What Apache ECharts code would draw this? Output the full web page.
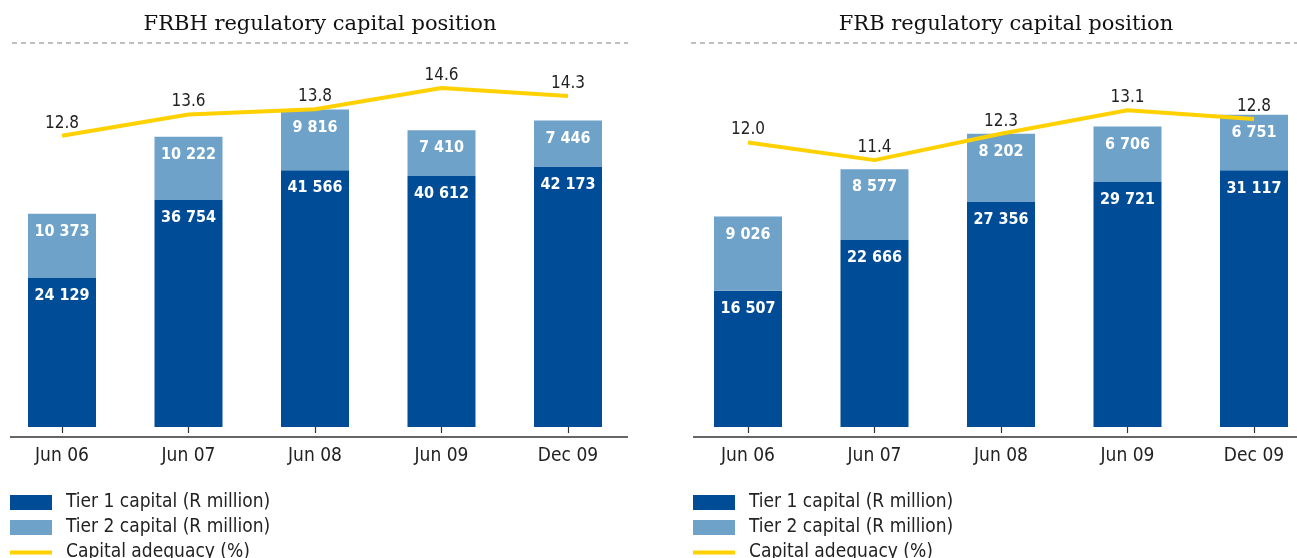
<!DOCTYPE html>
<html>
<head>
<meta charset="utf-8">
<script src="https://cdn.jsdelivr.net/npm/echarts@6/dist/echarts.min.js"></script>
<style>
  html, body { margin: 0; padding: 0; background: #fff; overflow: hidden; }
  /* 画布比窗口宽一点，左右各留 20px，避免 grid 被裁剪 */
  #main { width: 1340px; height: 558px; margin-left: -20px; }
</style>
</head>
<body>
<div id="main"></div>
<script>
// 数据
const categories = ["Jun 06", "Jun 07", "Jun 08", "Jun 09", "Dec 09"];
const frbhTier1 = [24129, 36754, 41566, 40612, 42173];
const frbhTier2 = [10373, 10222, 9816, 7410, 7446];
const frbhAdequacy = [12.8, 13.6, 13.8, 14.6, 14.3];
const frbTier1 = [16507, 22666, 27356, 29721, 31117];
const frbTier2 = [9026, 8577, 8202, 6706, 6751];
const frbAdequacy = [12.0, 11.4, 12.3, 13.1, 12.8];
const legendNames = ["Tier 1 capital (R million)", "Tier 2 capital (R million)", "Capital adequacy (%)"];

const DARK = "#004c97";
const LIGHT = "#6fa2c9";
const YELLOW = "#ffd100";
const TEXT = "#222";
const COND = "'DejaVu Sans Condensed', 'DejaVu Sans', sans-serif";
const OX = 20; // 画布左移量

const fmt = (v) => String(v).replace(/\B(?=(\d{3})+(?!\d))/g, " ");

function barLabel() {
  return {
    show: true,
    position: "insideTop",
    distance: 10,
    color: "#fff",
    fontFamily: COND,
    fontWeight: "bold",
    fontSize: 16,
    formatter: (p) => fmt(p.value),
  };
}

function xAxis(gridIndex) {
  return {
    type: "category",
    gridIndex: gridIndex,
    data: categories,
    offset: 10,
    axisLine: { show: false },
    axisTick: { show: true, alignWithLabel: true, length: 6, lineStyle: { color: "#333", width: 1.2 } },
    axisLabel: { margin: 10, color: TEXT, fontFamily: COND, fontSize: 19 },
  };
}

// 每个图例单独一行
function legends(left) {
  const lineIcon = "path://M0,0H0.01V15H0Z M0,5.5H42V9.5H0Z";
  return legendNames.map((name, i) => ({
    left: left + OX,
    top: 493 + 25 * i,
    padding: 0,
    itemWidth: 42,
    itemHeight: 15,
    selectedMode: false,
    textStyle: { color: TEXT, fontFamily: COND, fontSize: 19, padding: [0, 0, 0, 9] },
    data: [{ name: name, icon: i === 2 ? lineIcon : "rect" }],
  }));
}

function seriesFor(idx, t1, t2, ca) {
  return [
    {
      name: legendNames[0],
      type: "bar",
      xAxisIndex: idx,
      yAxisIndex: idx * 2,
      stack: "cap" + idx,
      barWidth: 68,
      itemStyle: { color: DARK },
      label: barLabel(),
      data: t1,
    },
    {
      name: legendNames[1],
      type: "bar",
      xAxisIndex: idx,
      yAxisIndex: idx * 2,
      stack: "cap" + idx,
      barWidth: 68,
      itemStyle: { color: LIGHT },
      label: barLabel(),
      data: t2,
    },
    {
      name: legendNames[2],
      type: "line",
      xAxisIndex: idx,
      yAxisIndex: idx * 2 + 1,
      symbol: "circle",
      symbolSize: 0.1,
      showSymbol: true,
      z: 5,
      lineStyle: { color: YELLOW, width: 4 },
      itemStyle: { color: YELLOW },
      label: {
        show: true,
        position: "top",
        distance: 4,
        color: TEXT,
        fontFamily: COND,
        fontSize: 17,
        formatter: (p) => p.value.toFixed(1),
      },
      data: ca,
    },
  ];
}

const chart = echarts.init(document.getElementById("main"));
chart.setOption({
  animation: false,
  title: [
    {
      text: "FRBH regulatory capital position",
      left: 315 + OX, top: 9, textAlign: "center",
      textStyle: { fontFamily: "'DejaVu Serif', serif", fontWeight: "normal", fontSize: 21, color: "#111" },
    },
    {
      text: "FRB regulatory capital position",
      left: 1001 + OX, top: 9, textAlign: "center",
      textStyle: { fontFamily: "'DejaVu Serif', serif", fontWeight: "normal", fontSize: 21, color: "#111" },
    },
  ],
  legend: [...legends(10), ...legends(693)],
  grid: [
    { left: -1.25 + OX, width: 632.5, top: 60, height: 367 },
    { left: 684.75 + OX, width: 632.5, top: 60, height: 367 },
  ],
  xAxis: [xAxis(0), xAxis(1)],
  yAxis: [
    { type: "value", gridIndex: 0, min: 0, max: 59400, show: false },
    { type: "value", gridIndex: 0, min: 1.81, max: 15.66, show: false },
    { type: "value", gridIndex: 1, min: 0, max: 44500, show: false },
    { type: "value", gridIndex: 1, min: 2.31, max: 14.81, show: false },
  ],
  graphic: [
    { type: "line", shape: { x1: 12 + OX, y1: 43, x2: 628 + OX, y2: 43 }, style: { stroke: "#aaa", lineWidth: 1.5, lineDash: [5, 4] } },
    { type: "line", shape: { x1: 691 + OX, y1: 43, x2: 1297 + OX, y2: 43 }, style: { stroke: "#aaa", lineWidth: 1.5, lineDash: [5, 4] } },
    { type: "line", shape: { x1: 10 + OX, y1: 437, x2: 628 + OX, y2: 437 }, style: { stroke: "#333", lineWidth: 1.5 } },
    { type: "line", shape: { x1: 693 + OX, y1: 437, x2: 1297 + OX, y2: 437 }, style: { stroke: "#333", lineWidth: 1.5 } },
  ],
  series: [
    ...seriesFor(0, frbhTier1, frbhTier2, frbhAdequacy),
    ...seriesFor(1, frbTier1, frbTier2, frbAdequacy),
  ],
});
</script>
</body>
</html>
